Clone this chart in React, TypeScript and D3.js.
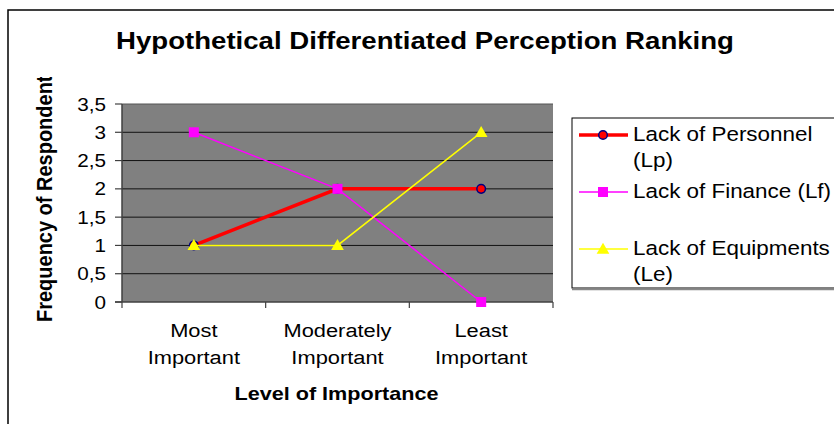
import React from "react";
import * as d3 from "d3";

const categories = ["Most|Important", "Moderately|Important", "Least|Important"];
const seriesNames = ["Lack of Personnel|(Lp)", "Lack of Finance (Lf)", "Lack of Equipments|(Le)"];
const lpValues = [1, 2, 2];
const lfValues = [3, 2, 0];
const leValues = [1, 1, 3];
const yTicks = [0, 0.5, 1, 1.5, 2, 2.5, 3, 3.5];
const yTickLabels = ["0", "0,5", "1", "1,5", "2", "2,5", "3", "3,5"];
const title = "Hypothetical Differentiated Perception Ranking";
const xTitle = "Level of Importance";
const yTitle = "Frequency of Respondents";

const FONT = "'Liberation Sans', Arial, sans-serif";
const SX = 1.15;

function T({ x, y, children, size, bold, anchor = "start", sx = SX }: any) {
  return (
    <text
      transform={`translate(${x},${y}) scale(${sx},1)`}
      textAnchor={anchor}
      fontFamily={FONT}
      fontSize={size}
      fontWeight={bold ? "bold" : "normal"}
      fill="#000"
    >
      {children}
    </text>
  );
}

export default function App() {
  const W = 834, H = 424;
  const x = d3.scaleBand().domain(categories).range([122, 553]);
  const y = d3.scaleLinear().domain([0, 3.5]).range([302, 104]);
  const cx = (c: string) => (x(c) as number) + x.bandwidth() / 2;

  const series = [
    { name: seriesNames[0], values: lpValues, color: "#FF0000", width: 3.5, marker: "circle" },
    { name: seriesNames[1], values: lfValues, color: "#FF00FF", width: 1.5, marker: "square" },
    { name: seriesNames[2], values: leValues, color: "#FFFF00", width: 1.5, marker: "triangle" },
  ];

  const line = d3
    .line<number>()
    .x((_, i) => cx(categories[i]))
    .y((d) => y(d));

  const tri = d3.symbol().type(d3.symbolTriangle).size(70)();

  const marker = (m: string, color: string, px: number, py: number, key: any) => {
    if (m === "circle")
      return <circle key={key} cx={px} cy={py} r={4.3} fill={color} stroke="#000080" strokeWidth={1.5} />;
    if (m === "square")
      return <rect key={key} x={px - 5} y={py - 5} width={10} height={10} fill={color} />;
    return <path key={key} d={tri as string} transform={`translate(${px},${py + 1})`} fill={color} />;
  };

  const legendRows = [
    { lineY: 135, textY: [141, 167] },
    { lineY: 192, textY: [198] },
    { lineY: 249, textY: [255, 281] },
  ];

  return (
    <svg width={W} height={H} style={{ position: "absolute", left: 0, top: 0, background: "#fff" }}>
      <defs>
        <clipPath id="ytclip">
          <rect x={0} y={77} width={100} height={300} />
        </clipPath>
      </defs>
      <rect x={8} y={10} width={900} height={500} fill="#fff" stroke="#000" strokeWidth={1.5} />

      <T x={425} y={49} size={24} bold anchor="middle">{title}</T>

      {/* plot area */}
      <rect x={122} y={104} width={431} height={198} fill="#808080" />
      {yTicks.map((t, i) =>
        t > 0 ? (
          <line key={"g" + i} x1={122} x2={553} y1={y(t)} y2={y(t)} stroke={t === 3.5 ? "#555" : "#111"} strokeWidth={1} />
        ) : null
      )}
      {/* axes */}
      <line x1={122} x2={122} y1={104} y2={302} stroke="#404040" strokeWidth={1.5} />
      <line x1={115} x2={553} y1={302} y2={302} stroke="#404040" strokeWidth={1.5} />
      {yTicks.map((t, i) => (
        <g key={"yt" + i}>
          <line x1={115} x2={122} y1={y(t)} y2={y(t)} stroke="#404040" strokeWidth={1.2} />
          <T x={106} y={y(t) + 6.5} size={18} anchor="end">{yTickLabels[i]}</T>
        </g>
      ))}
      {[...categories.map((c) => x(c) as number), 553].map((v, i) => (
        <line key={"xt" + i} x1={v} x2={v} y1={302} y2={308} stroke="#404040" strokeWidth={1.2} />
      ))}
      {categories.map((c, i) => {
        const parts = c.split("|");
        return (
          <g key={"xl" + i}>
            <T x={cx(c)} y={337} size={19} anchor="middle">{parts[0]}</T>
            <T x={cx(c)} y={364} size={19} anchor="middle">{parts[1]}</T>
          </g>
        );
      })}

      <T x={336.5} y={400} size={18} bold anchor="middle" sx={1.2}>{xTitle}</T>

      <g clipPath="url(#ytclip)">
        <text
          transform={`translate(52,322) rotate(-90) scale(1,1.12)`}
          fontFamily={FONT}
          fontSize={20}
          fontWeight="bold"
          fill="#000"
        >
          {yTitle}
        </text>
      </g>

      {/* series */}
      {series.map((s, si) => (
        <g key={"s" + si}>
          <path d={line(s.values) as string} fill="none" stroke={s.color} strokeWidth={s.width} />
          {s.values.map((v, i) => marker(s.marker, s.color, cx(categories[i]), y(v), i))}
        </g>
      ))}

      {/* legend */}
      <rect x={572} y={118} width={300} height={170} fill="#fff" stroke="#000" strokeWidth={1} />
      <line x1={572} x2={900} y1={289.5} y2={289.5} stroke="#888" strokeWidth={1.5} />
      {series.map((s, si) => {
        const r = legendRows[si];
        const parts = s.name.split("|");
        return (
          <g key={"l" + si}>
            <line x1={579} x2={628} y1={r.lineY} y2={r.lineY} stroke={s.color} strokeWidth={s.width} />
            {marker(s.marker, s.color, 603, r.lineY, "m")}
            {parts.map((p, pi) => (
              <T key={pi} x={633} y={r.textY[pi]} size={19.5}>{p}</T>
            ))}
          </g>
        );
      })}
    </svg>
  );
}
